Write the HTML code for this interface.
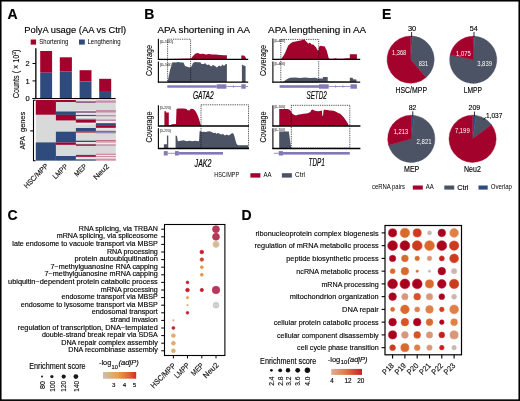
<!DOCTYPE html>
<html><head><meta charset="utf-8"><style>
html,body{margin:0;padding:0;background:#fff;overflow:hidden;}
svg{display:block;will-change:transform;}
text{stroke:#111;stroke-width:0.15px;font-family:"Liberation Sans",sans-serif;}
</style></head><body>
<svg width="520" height="401" viewBox="0 0 520 401">
<rect width="520" height="401" fill="#fff"/>
<g>
<text x="7.40" y="18.60" font-size="14" font-weight="bold" fill="#000" style="stroke:#000">A</text>
<text x="144.30" y="18.60" font-size="14" font-weight="bold" fill="#000" style="stroke:#000">B</text>
<text x="382.10" y="18.80" font-size="14" font-weight="bold" fill="#000" style="stroke:#000">E</text>
<text x="7.40" y="219.50" font-size="14" font-weight="bold" fill="#000" style="stroke:#000">C</text>
<text x="241.40" y="219.50" font-size="14" font-weight="bold" fill="#000" style="stroke:#000">D</text>
<text x="24.20" y="33.00" font-size="9" textLength="102.00" lengthAdjust="spacingAndGlyphs">PolyA usage (AA vs Ctrl)</text>
<rect x="30.70" y="39.50" width="5.40" height="5.10" fill="#a3022c"/>
<text x="39.30" y="44.40" font-size="7" textLength="29.00" lengthAdjust="spacingAndGlyphs" style="stroke:none">Shortening</text>
<rect x="79.00" y="39.50" width="5.80" height="5.10" fill="#2f4b7e"/>
<text x="87.50" y="44.40" font-size="7" textLength="33.20" lengthAdjust="spacingAndGlyphs" style="stroke:none">Lengthening</text>
<text x="0" y="0" font-size="9" text-anchor="middle" textLength="48.7" lengthAdjust="spacingAndGlyphs" transform="translate(19.0 73.9) rotate(-90)" fill="#111">Counts ( × 10<tspan font-size="6" dy="-3">3</tspan><tspan dy="3">)</tspan></text>
<text x="29.60" y="66.00" font-size="7.5" text-anchor="end">2</text>
<text x="29.60" y="83.60" font-size="7.5" text-anchor="end">1</text>
<text x="29.60" y="100.80" font-size="7.5" text-anchor="end">0</text>
<line x1="35.85" y1="48.30" x2="35.85" y2="98.50" stroke="#000" stroke-width="1.3"/>
<line x1="32.50" y1="63.50" x2="35.90" y2="63.50" stroke="#000" stroke-width="1"/>
<line x1="32.50" y1="80.90" x2="35.90" y2="80.90" stroke="#000" stroke-width="1"/>
<line x1="32.20" y1="98.50" x2="115.60" y2="98.50" stroke="#000" stroke-width="1.2"/>
<rect x="40.20" y="51.00" width="11.90" height="21.70" fill="#a3022c"/>
<rect x="40.20" y="72.70" width="11.90" height="25.30" fill="#2f4b7e"/>
<rect x="59.80" y="57.30" width="12.10" height="14.00" fill="#a3022c"/>
<rect x="59.80" y="71.30" width="12.10" height="26.70" fill="#2f4b7e"/>
<rect x="79.60" y="70.20" width="11.90" height="11.30" fill="#a3022c"/>
<rect x="79.60" y="81.50" width="11.90" height="16.50" fill="#2f4b7e"/>
<rect x="99.20" y="78.80" width="12.00" height="12.20" fill="#a3022c"/>
<rect x="99.20" y="91.00" width="12.00" height="7.00" fill="#2f4b7e"/>
<rect x="35.80" y="99.90" width="80.00" height="60.70" fill="#d8dada"/>
<rect x="35.80" y="99.90" width="20.10" height="14.80" fill="#a3022c"/>
<rect x="35.80" y="142.40" width="20.10" height="18.20" fill="#2f4b7e"/>
<rect x="55.90" y="99.90" width="20.00" height="2.10" fill="#a3022c"/>
<rect x="55.90" y="111.50" width="20.00" height="3.40" fill="#2f4b7e"/>
<rect x="55.90" y="114.90" width="20.00" height="5.50" fill="#a3022c"/>
<rect x="55.90" y="131.70" width="20.00" height="10.80" fill="#2f4b7e"/>
<rect x="55.90" y="142.50" width="20.00" height="2.30" fill="#a3022c"/>
<rect x="55.90" y="156.00" width="20.00" height="4.60" fill="#2f4b7e"/>
<rect x="75.90" y="99.30" width="20.00" height="0.90" fill="#e6c6ce"/>
<rect x="75.90" y="100.40" width="20.00" height="1.00" fill="#f0e6e8"/>
<rect x="75.90" y="101.40" width="20.00" height="1.30" fill="#7a3a68"/>
<rect x="75.90" y="110.00" width="20.00" height="1.40" fill="#ece2e6"/>
<rect x="75.90" y="111.40" width="20.00" height="1.40" fill="#6a3a6a"/>
<rect x="75.90" y="112.80" width="20.00" height="0.90" fill="#f0e8ea"/>
<rect x="75.90" y="113.70" width="20.00" height="1.20" fill="#ebe3e6"/>
<rect x="75.90" y="114.90" width="20.00" height="1.40" fill="#4a4a86"/>
<rect x="75.90" y="116.30" width="20.00" height="2.20" fill="#eeeaea"/>
<rect x="75.90" y="118.50" width="20.00" height="0.90" fill="#a8b0c8"/>
<rect x="75.90" y="119.40" width="20.00" height="0.50" fill="#2f4b7e"/>
<rect x="75.90" y="119.90" width="20.00" height="2.90" fill="#a3022c"/>
<rect x="75.90" y="122.80" width="20.00" height="1.70" fill="#f2eeee"/>
<rect x="75.90" y="128.00" width="20.00" height="3.40" fill="#2f4b7e"/>
<rect x="75.90" y="131.40" width="20.00" height="1.20" fill="#a0203a"/>
<rect x="75.90" y="140.70" width="20.00" height="1.50" fill="#3a4478"/>
<rect x="75.90" y="142.20" width="20.00" height="1.10" fill="#f0eeee"/>
<rect x="75.90" y="144.20" width="20.00" height="1.70" fill="#903050"/>
<rect x="75.90" y="154.90" width="20.00" height="1.40" fill="#2f4b7e"/>
<rect x="75.90" y="156.30" width="20.00" height="0.90" fill="#a3022c"/>
<rect x="75.90" y="157.20" width="20.00" height="2.20" fill="#e6e6e6"/>
<rect x="75.90" y="159.40" width="20.00" height="1.20" fill="#2f4b7e"/>
<rect x="95.90" y="99.30" width="19.90" height="1.00" fill="#e8c4cc"/>
<rect x="95.90" y="100.60" width="19.90" height="2.10" fill="#c890a8"/>
<rect x="95.90" y="110.00" width="19.90" height="2.50" fill="#c88ca8"/>
<rect x="95.90" y="113.80" width="19.90" height="0.80" fill="#eee8ea"/>
<rect x="95.90" y="114.90" width="19.90" height="1.60" fill="#c890a8"/>
<rect x="95.90" y="116.80" width="19.90" height="1.70" fill="#e2dede"/>
<rect x="95.90" y="119.50" width="19.90" height="1.50" fill="#c890a8"/>
<rect x="95.90" y="121.00" width="19.90" height="2.00" fill="#f0ecec"/>
<rect x="95.90" y="123.20" width="19.90" height="2.00" fill="#2f4b7e"/>
<rect x="95.90" y="125.20" width="19.90" height="2.60" fill="#a3022c"/>
<rect x="95.90" y="128.00" width="19.90" height="1.50" fill="#e6e6e6"/>
<rect x="95.90" y="130.90" width="19.90" height="1.30" fill="#c05070"/>
<rect x="95.90" y="132.20" width="19.90" height="1.10" fill="#8a80b0"/>
<rect x="95.90" y="140.30" width="19.90" height="1.10" fill="#c04060"/>
<rect x="95.90" y="141.40" width="19.90" height="1.40" fill="#d8a0b0"/>
<rect x="95.90" y="142.80" width="19.90" height="1.20" fill="#ecebeb"/>
<rect x="95.90" y="144.40" width="19.90" height="1.40" fill="#c890a8"/>
<rect x="95.90" y="153.80" width="19.90" height="1.00" fill="#c86080"/>
<rect x="95.90" y="154.80" width="19.90" height="1.20" fill="#eeeaea"/>
<rect x="95.90" y="156.00" width="19.90" height="1.20" fill="#c890a8"/>
<rect x="95.90" y="157.20" width="19.90" height="1.50" fill="#ebe7e7"/>
<rect x="95.90" y="158.70" width="19.90" height="1.90" fill="#d890a8"/>
<path d="M35.6,100.2 H33.5 V160.8 H35.6" fill="none" stroke="#000" stroke-width="1.1"/>
<line x1="30.20" y1="130.90" x2="33.50" y2="130.90" stroke="#000" stroke-width="1.1"/>
<text x="0" y="0" font-size="7.5" text-anchor="middle" transform="translate(24.8 142.8) rotate(-90)" fill="#111" textLength="13.3" lengthAdjust="spacingAndGlyphs">APA</text>
<text x="0" y="0" font-size="7.5" text-anchor="middle" transform="translate(24.8 121.9) rotate(-90)" fill="#111" textLength="20.2" lengthAdjust="spacingAndGlyphs">genes</text>
<text x="0" y="0" font-size="7.2" text-anchor="end" textLength="31.2" lengthAdjust="spacingAndGlyphs" transform="translate(48.7 166.6) rotate(-45)" fill="#111">HSC/MPP</text>
<text x="0" y="0" font-size="7.2" text-anchor="end" textLength="18" lengthAdjust="spacingAndGlyphs" transform="translate(68.3 166.8) rotate(-45)" fill="#111">LMPP</text>
<text x="0" y="0" font-size="7.2" text-anchor="end" textLength="14.5" lengthAdjust="spacingAndGlyphs" transform="translate(87.3 166.8) rotate(-45)" fill="#111">MEP</text>
<text x="0" y="0" font-size="7.2" text-anchor="end" textLength="19" lengthAdjust="spacingAndGlyphs" transform="translate(109.6 166.8) rotate(-45)" fill="#111">Neu2</text>
<text x="157.40" y="33.10" font-size="9.3" textLength="92.60" lengthAdjust="spacingAndGlyphs">APA shortening in AA</text>
<text x="268.10" y="33.10" font-size="9.3" textLength="98.00" lengthAdjust="spacingAndGlyphs">APA lengthening in AA</text>
<text x="0" y="0" font-size="8.5" text-anchor="middle" textLength="31" lengthAdjust="spacingAndGlyphs" transform="translate(151.9 60.6) rotate(-90)" fill="#111">Coverage</text>
<text x="0" y="0" font-size="8.5" text-anchor="middle" textLength="31" lengthAdjust="spacingAndGlyphs" transform="translate(151.9 127) rotate(-90)" fill="#111">Coverage</text>
<text x="0" y="0" font-size="8.5" text-anchor="middle" textLength="31" lengthAdjust="spacingAndGlyphs" transform="translate(266.2 60.6) rotate(-90)" fill="#111">Coverage</text>
<text x="0" y="0" font-size="8.5" text-anchor="middle" textLength="31" lengthAdjust="spacingAndGlyphs" transform="translate(266.2 127) rotate(-90)" fill="#111">Coverage</text>
<polygon points="169.00,59.40 169.00,59.00 191.00,58.60 193.00,56.00 195.50,53.60 198.00,53.00 200.00,54.00 203.00,53.80 206.00,54.40 209.00,54.00 212.00,54.60 216.00,54.60 220.00,55.00 224.00,55.20 226.90,55.20 226.90,59.40 241.30,59.40 241.30,55.40 244.00,55.60 245.80,57.40 245.80,59.40 245.80,59.40" fill="#a3022c"/>
<line x1="158.40" y1="38.80" x2="158.40" y2="60.00" stroke="#000" stroke-width="1.1"/>
<line x1="157.90" y1="59.40" x2="248.20" y2="59.40" stroke="#000" stroke-width="1.3"/>
<text x="159.90" y="43.00" font-size="3.9" textLength="12.90" lengthAdjust="spacingAndGlyphs" fill="#666" style="stroke:#666">[0-100]</text>
<polygon points="167.60,82.10 167.60,82.00 170.00,70.00 172.50,62.20 176.00,62.60 178.00,62.00 181.00,62.60 183.50,62.60 185.00,66.00 188.00,67.00 190.00,67.50 191.50,66.50 193.00,63.00 195.00,62.00 198.00,62.30 200.40,62.20 201.50,64.00 204.00,64.00 205.00,63.00 207.00,65.00 209.00,64.50 211.00,66.50 213.00,65.00 215.00,66.00 217.00,67.50 219.00,65.50 221.00,66.50 222.50,64.50 224.00,66.00 225.50,64.20 226.90,64.00 226.90,82.00 241.90,82.00 241.90,64.60 243.50,65.40 245.60,66.00 245.60,82.00 245.60,82.10" fill="#4b5364"/>
<line x1="158.40" y1="61.50" x2="158.40" y2="82.70" stroke="#000" stroke-width="1.1"/>
<line x1="157.90" y1="82.10" x2="248.20" y2="82.10" stroke="#000" stroke-width="1.3"/>
<text x="159.90" y="65.70" font-size="3.9" textLength="12.90" lengthAdjust="spacingAndGlyphs" fill="#666" style="stroke:#666">[0-100]</text>
<rect x="167.60" y="39.20" width="23.00" height="42.90" fill="none" stroke="#111" stroke-width="0.8" stroke-dasharray="0.9,0.9"/>
<rect x="167.30" y="85.30" width="49.50" height="2.40" fill="#8478b6"/>
<rect x="216.80" y="84.30" width="9.60" height="4.40" fill="#8478b6"/>
<line x1="226.40" y1="86.50" x2="241.30" y2="86.50" stroke="#8478b6" stroke-width="0.8"/>
<path d="M233.15,85.40 L234.45,86.50 L233.15,87.60" fill="none" stroke="#8478b6" stroke-width="0.8"/>
<rect x="241.30" y="84.30" width="4.40" height="4.40" fill="#8478b6"/>
<line x1="245.70" y1="86.50" x2="248.00" y2="86.50" stroke="#8478b6" stroke-width="0.8"/>
<text x="192.90" y="99.40" font-size="10" textLength="20.80" lengthAdjust="spacingAndGlyphs" font-style="italic">GATA2</text>
<polygon points="164.40,126.00 164.40,126.00 164.40,111.30 166.00,111.30 166.00,112.40 168.80,112.40 168.80,125.20 171.00,125.00 172.00,124.20 176.00,124.00 176.50,109.00 178.00,108.50 184.00,108.50 186.50,109.00 187.50,110.20 190.00,110.20 190.50,108.80 193.00,109.00 194.50,110.00 196.00,112.00 197.50,115.00 199.00,119.00 201.00,126.00 201.00,126.00" fill="#a3022c"/>
<line x1="158.40" y1="105.20" x2="158.40" y2="126.60" stroke="#000" stroke-width="1.1"/>
<line x1="157.90" y1="126.00" x2="249.00" y2="126.00" stroke="#000" stroke-width="1.3"/>
<text x="159.90" y="108.80" font-size="3.9" textLength="10.80" lengthAdjust="spacingAndGlyphs" fill="#666" style="stroke:#666">[0-220]</text>
<polygon points="163.85,148.50 163.85,148.46 163.85,144.23 166.92,144.23 166.92,135.38 168.27,135.38 168.27,148.46 175.58,148.46 175.58,135.38 176.92,135.96 177.88,141.15 180.77,140.77 183.65,140.19 186.54,141.15 189.42,140.77 192.31,141.35 195.19,140.77 198.08,141.15 199.04,140.77 199.62,131.15 201.15,131.15 201.92,132.12 203.85,131.73 205.77,132.12 207.69,131.54 209.62,131.15 211.54,132.12 213.46,133.08 215.38,132.69 216.35,134.04 217.31,133.08 219.23,133.46 221.15,134.62 223.08,134.04 225.00,135.38 226.92,134.62 228.85,135.38 230.77,134.04 232.31,133.08 233.65,134.04 234.62,136.92 235.58,140.77 236.54,143.65 237.50,145.00 238.46,145.19 248.08,145.19 248.08,148.46 248.08,148.50" fill="#4b5364"/>
<line x1="158.40" y1="128.30" x2="158.40" y2="149.10" stroke="#000" stroke-width="1.1"/>
<line x1="157.90" y1="148.50" x2="249.00" y2="148.50" stroke="#000" stroke-width="1.3"/>
<text x="159.90" y="131.90" font-size="3.9" textLength="10.80" lengthAdjust="spacingAndGlyphs" fill="#666" style="stroke:#666">[0-220]</text>
<rect x="201.00" y="104.80" width="47.50" height="43.70" fill="none" stroke="#111" stroke-width="0.8" stroke-dasharray="0.9,0.9"/>
<rect x="163.80" y="151.10" width="3.90" height="4.40" fill="#8478b6"/>
<line x1="167.70" y1="153.30" x2="175.00" y2="153.30" stroke="#8478b6" stroke-width="0.8"/>
<rect x="175.00" y="151.10" width="3.80" height="4.40" fill="#8478b6"/>
<rect x="178.80" y="152.00" width="44.20" height="2.60" fill="#8478b6"/>
<text x="194.60" y="166.90" font-size="10" textLength="16.90" lengthAdjust="spacingAndGlyphs" font-style="italic">JAK2</text>
<polygon points="280.58,59.40 280.58,59.42 281.15,58.85 281.92,58.08 283.46,55.77 285.38,52.31 286.92,48.46 288.27,45.58 290.19,43.65 292.12,42.31 294.04,41.73 296.92,41.15 298.85,40.77 300.77,40.38 302.69,39.81 304.23,39.62 305.58,40.77 306.54,41.73 307.50,42.69 308.46,43.65 309.42,42.69 310.38,43.08 311.35,44.23 312.31,44.62 313.27,44.62 314.23,45.58 315.19,46.54 316.15,47.50 317.12,49.42 318.08,50.77 318.46,50.77 319.04,46.92 319.62,46.15 320.96,45.77 322.88,46.15 324.81,46.54 325.77,48.85 326.73,50.38 327.69,54.23 328.65,58.08 329.23,58.85 333.46,58.65 335.38,58.27 337.31,58.85 343.08,58.85 345.96,58.27 349.81,58.27 349.81,54.23 356.92,54.23 356.92,59.42 356.92,59.40" fill="#a3022c"/>
<line x1="272.90" y1="38.50" x2="272.90" y2="60.00" stroke="#000" stroke-width="1.1"/>
<line x1="272.40" y1="59.40" x2="360.20" y2="59.40" stroke="#000" stroke-width="1.3"/>
<text x="274.40" y="41.50" font-size="3.9" textLength="10.80" lengthAdjust="spacingAndGlyphs" fill="#666" style="stroke:#666">[0-400]</text>
<polygon points="283.50,82.10 283.50,82.10 285.00,80.50 287.30,79.00 290.00,77.80 295.00,77.60 300.00,77.90 305.00,77.60 310.00,77.90 315.00,77.70 318.00,78.50 322.90,78.60 322.90,76.90 327.70,76.90 327.70,81.20 349.80,81.50 349.80,77.70 352.70,77.70 353.00,79.30 356.50,79.60 356.50,82.10 356.50,82.10" fill="#4b5364"/>
<line x1="272.90" y1="61.50" x2="272.90" y2="82.70" stroke="#000" stroke-width="1.1"/>
<line x1="272.40" y1="82.10" x2="360.20" y2="82.10" stroke="#000" stroke-width="1.3"/>
<text x="274.40" y="64.50" font-size="3.9" textLength="10.80" lengthAdjust="spacingAndGlyphs" fill="#666" style="stroke:#666">[0-400]</text>
<rect x="280.80" y="39.40" width="37.90" height="42.70" fill="none" stroke="#111" stroke-width="0.8" stroke-dasharray="0.9,0.9"/>
<rect x="279.60" y="85.20" width="39.40" height="2.60" fill="#8478b6"/>
<rect x="319.00" y="84.30" width="9.70" height="4.40" fill="#8478b6"/>
<line x1="328.70" y1="86.50" x2="350.40" y2="86.50" stroke="#8478b6" stroke-width="0.8"/>
<path d="M335.23,85.40 L336.53,86.50 L335.23,87.60" fill="none" stroke="#8478b6" stroke-width="0.8"/>
<path d="M342.47,85.40 L343.77,86.50 L342.47,87.60" fill="none" stroke="#8478b6" stroke-width="0.8"/>
<rect x="350.40" y="84.30" width="6.50" height="4.40" fill="#8478b6"/>
<text x="306.50" y="99.30" font-size="10" textLength="20.20" lengthAdjust="spacingAndGlyphs" font-style="italic">SETD2</text>
<polygon points="279.23,126.00 279.23,125.96 279.23,109.04 287.31,109.04 289.23,109.62 290.77,110.96 292.12,113.46 294.04,114.81 295.96,115.38 297.88,114.81 300.77,114.23 303.65,113.85 306.54,113.46 308.46,112.88 310.38,111.92 311.35,110.00 312.69,109.42 314.23,110.58 316.15,110.96 318.08,111.35 320.00,110.96 321.92,110.58 322.31,115.77 323.08,115.77 323.46,110.58 324.81,109.62 325.77,110.00 327.69,110.00 329.62,110.38 331.54,110.58 334.42,110.96 336.35,111.92 338.27,112.88 340.19,113.85 342.12,115.38 344.04,117.69 345.96,120.58 347.88,123.46 348.85,125.96 348.85,126.00" fill="#a3022c"/>
<line x1="272.90" y1="105.20" x2="272.90" y2="126.60" stroke="#000" stroke-width="1.1"/>
<line x1="272.40" y1="126.00" x2="360.40" y2="126.00" stroke="#000" stroke-width="1.3"/>
<text x="274.40" y="107.70" font-size="3.9" textLength="10.70" lengthAdjust="spacingAndGlyphs" fill="#666" style="stroke:#666">[0-100]</text>
<polygon points="279.20,148.50 279.20,148.50 279.20,131.50 288.80,131.50 290.00,140.00 291.20,148.50 291.20,148.50" fill="#4b5364"/>
<line x1="272.90" y1="128.30" x2="272.90" y2="149.10" stroke="#000" stroke-width="1.1"/>
<line x1="272.40" y1="148.50" x2="360.40" y2="148.50" stroke="#000" stroke-width="1.3"/>
<text x="274.40" y="130.80" font-size="3.9" textLength="10.70" lengthAdjust="spacingAndGlyphs" fill="#666" style="stroke:#666">[0-100]</text>
<rect x="291.30" y="105.30" width="58.50" height="42.80" fill="none" stroke="#111" stroke-width="0.8" stroke-dasharray="0.9,0.9"/>
<line x1="273.80" y1="153.30" x2="278.70" y2="153.30" stroke="#8478b6" stroke-width="0.8"/>
<rect x="278.70" y="151.10" width="4.30" height="4.40" fill="#8478b6"/>
<rect x="283.00" y="152.00" width="66.80" height="2.60" fill="#8478b6"/>
<text x="308.60" y="166.20" font-size="10" textLength="16.30" lengthAdjust="spacingAndGlyphs" font-style="italic">TDP1</text>
<text x="214.20" y="177.10" font-size="6.3" textLength="25.00" lengthAdjust="spacingAndGlyphs" style="stroke:none">HSC/MPP</text>
<rect x="250.40" y="173.20" width="10.00" height="4.40" fill="#a3022c"/>
<text x="263.50" y="177.10" font-size="6.3" textLength="8.00" lengthAdjust="spacingAndGlyphs" style="stroke:none">AA</text>
<rect x="281.90" y="173.20" width="10.00" height="4.40" fill="#4b5364"/>
<text x="295.00" y="177.10" font-size="6.3" textLength="10.00" lengthAdjust="spacingAndGlyphs" style="stroke:none">Ctrl</text>
<path d="M410.60,59.60 L410.60,36.00 A23.6,23.6 0 0 1 412.59,36.08 Z" fill="#2f4b7e" stroke="#2f4b7e" stroke-width="0.4" stroke-linejoin="round"/>
<path d="M410.60,59.60 L412.59,36.08 A23.6,23.6 0 0 1 426.06,77.43 Z" fill="#4b5364" stroke="#4b5364" stroke-width="0.4" stroke-linejoin="round"/>
<path d="M410.60,59.60 L426.06,77.43 A23.6,23.6 0 1 1 410.60,36.00 Z" fill="#a3022c" stroke="#a3022c" stroke-width="0.4" stroke-linejoin="round"/>
<path d="M473.20,59.80 L473.20,36.20 A23.6,23.6 0 0 1 474.81,36.26 Z" fill="#2f4b7e" stroke="#2f4b7e" stroke-width="0.4" stroke-linejoin="round"/>
<path d="M473.20,59.80 L474.81,36.26 A23.6,23.6 0 1 1 450.12,54.85 Z" fill="#4b5364" stroke="#4b5364" stroke-width="0.4" stroke-linejoin="round"/>
<path d="M473.20,59.80 L450.12,54.85 A23.6,23.6 0 0 1 473.20,36.20 Z" fill="#a3022c" stroke="#a3022c" stroke-width="0.4" stroke-linejoin="round"/>
<path d="M411.30,138.80 L411.30,115.20 A23.6,23.6 0 0 1 414.25,115.38 Z" fill="#2f4b7e" stroke="#2f4b7e" stroke-width="0.4" stroke-linejoin="round"/>
<path d="M411.30,138.80 L414.25,115.38 A23.6,23.6 0 1 1 388.62,145.34 Z" fill="#4b5364" stroke="#4b5364" stroke-width="0.4" stroke-linejoin="round"/>
<path d="M411.30,138.80 L388.62,145.34 A23.6,23.6 0 0 1 411.30,115.20 Z" fill="#a3022c" stroke="#a3022c" stroke-width="0.4" stroke-linejoin="round"/>
<path d="M472.60,138.80 L472.60,115.20 A23.6,23.6 0 0 1 476.25,115.48 Z" fill="#2f4b7e" stroke="#2f4b7e" stroke-width="0.4" stroke-linejoin="round"/>
<path d="M472.60,138.80 L476.25,115.48 A23.6,23.6 0 0 1 491.48,124.64 Z" fill="#4b5364" stroke="#4b5364" stroke-width="0.4" stroke-linejoin="round"/>
<path d="M472.60,138.80 L491.48,124.64 A23.6,23.6 0 1 1 472.60,115.20 Z" fill="#a3022c" stroke="#a3022c" stroke-width="0.4" stroke-linejoin="round"/>
<text x="412.10" y="30.80" font-size="7.6" text-anchor="middle" textLength="8.20" lengthAdjust="spacingAndGlyphs">30</text>
<line x1="411.60" y1="32.00" x2="411.60" y2="36.80" stroke="#111" stroke-width="0.9"/>
<text x="473.75" y="30.70" font-size="7.6" text-anchor="middle" textLength="8.10" lengthAdjust="spacingAndGlyphs">54</text>
<line x1="474.01" y1="31.90" x2="474.01" y2="37.00" stroke="#111" stroke-width="0.9"/>
<text x="412.60" y="110.10" font-size="7.6" text-anchor="middle" textLength="7.80" lengthAdjust="spacingAndGlyphs">82</text>
<line x1="412.78" y1="111.30" x2="412.78" y2="116.00" stroke="#111" stroke-width="0.9"/>
<text x="474.35" y="110.30" font-size="7.6" text-anchor="middle" textLength="11.70" lengthAdjust="spacingAndGlyphs">209</text>
<line x1="474.43" y1="111.50" x2="474.43" y2="116.00" stroke="#111" stroke-width="0.9"/>
<text x="486.00" y="117.70" font-size="7.6" textLength="16.40" lengthAdjust="spacingAndGlyphs">1,037</text>
<line x1="485.60" y1="117.30" x2="483.50" y2="119.80" stroke="#111" stroke-width="0.9"/>
<text x="392.00" y="54.60" font-size="7.2" textLength="14.20" lengthAdjust="spacingAndGlyphs" fill="#ffffff" style="stroke:none">1,368</text>
<text x="418.70" y="66.30" font-size="7.2" textLength="9.50" lengthAdjust="spacingAndGlyphs" fill="#ffffff" style="stroke:none">831</text>
<text x="456.00" y="55.80" font-size="7.2" textLength="14.80" lengthAdjust="spacingAndGlyphs" fill="#ffffff" style="stroke:none">1,075</text>
<text x="477.20" y="66.00" font-size="7.2" textLength="14.80" lengthAdjust="spacingAndGlyphs" fill="#ffffff" style="stroke:none">3,839</text>
<text x="393.80" y="134.30" font-size="7.2" textLength="14.40" lengthAdjust="spacingAndGlyphs" fill="#ffffff" style="stroke:none">1,213</text>
<text x="416.50" y="144.30" font-size="7.2" textLength="15.10" lengthAdjust="spacingAndGlyphs" fill="#ffffff" style="stroke:none">2,821</text>
<text x="454.90" y="132.60" font-size="7.2" textLength="14.80" lengthAdjust="spacingAndGlyphs" fill="#ffffff" style="stroke:none">7,199</text>
<text x="395.50" y="92.80" font-size="8.3" textLength="31.50" lengthAdjust="spacingAndGlyphs">HSC/MPP</text>
<text x="463.80" y="92.50" font-size="8.3" textLength="18.20" lengthAdjust="spacingAndGlyphs">LMPP</text>
<text x="404.00" y="171.80" font-size="8.3" textLength="15.30" lengthAdjust="spacingAndGlyphs">MEP</text>
<text x="464.00" y="172.10" font-size="8.3" textLength="16.80" lengthAdjust="spacingAndGlyphs">Neu2</text>
<text x="372.00" y="189.30" font-size="6.9" textLength="32.90" lengthAdjust="spacingAndGlyphs" style="stroke:none">ceRNA pairs</text>
<rect x="412.80" y="185.50" width="10.00" height="4.10" fill="#a3022c"/>
<text x="425.80" y="189.30" font-size="6.9" textLength="8.00" lengthAdjust="spacingAndGlyphs" style="stroke:none">AA</text>
<rect x="444.30" y="185.50" width="9.90" height="4.10" fill="#4b5364"/>
<text x="457.20" y="189.50" font-size="7.5" textLength="11.30" lengthAdjust="spacingAndGlyphs">Ctrl</text>
<rect x="478.50" y="185.50" width="9.20" height="4.10" fill="#2f4b7e"/>
<text x="490.80" y="189.30" font-size="6.9" textLength="21.20" lengthAdjust="spacingAndGlyphs" style="stroke:none">Overlap</text>
<text x="157.80" y="230.80" font-size="6.8" text-anchor="end" textLength="79.00" lengthAdjust="spacingAndGlyphs">RNA splicing, via TRBAN</text>
<line x1="161.20" y1="229.20" x2="164.50" y2="229.20" stroke="#000" stroke-width="1"/>
<text x="157.80" y="238.40" font-size="6.8" text-anchor="end" textLength="101.10" lengthAdjust="spacingAndGlyphs">mRNA splicing, via spliceosome</text>
<line x1="161.20" y1="236.80" x2="164.50" y2="236.80" stroke="#000" stroke-width="1"/>
<text x="157.80" y="246.00" font-size="6.8" text-anchor="end" textLength="145.50" lengthAdjust="spacingAndGlyphs">late endosome to vacuole transport via MBSP</text>
<line x1="161.20" y1="244.40" x2="164.50" y2="244.40" stroke="#000" stroke-width="1"/>
<text x="157.80" y="253.60" font-size="6.8" text-anchor="end" textLength="50.90" lengthAdjust="spacingAndGlyphs">RNA processing</text>
<line x1="161.20" y1="252.00" x2="164.50" y2="252.00" stroke="#000" stroke-width="1"/>
<text x="157.80" y="261.20" font-size="6.8" text-anchor="end" textLength="83.20" lengthAdjust="spacingAndGlyphs">protein autoubiquitination</text>
<line x1="161.20" y1="259.60" x2="164.50" y2="259.60" stroke="#000" stroke-width="1"/>
<text x="157.80" y="268.80" font-size="6.8" text-anchor="end" textLength="107.40" lengthAdjust="spacingAndGlyphs">7−methylguanosine RNA capping</text>
<line x1="161.20" y1="267.20" x2="164.50" y2="267.20" stroke="#000" stroke-width="1"/>
<text x="157.80" y="276.40" font-size="6.8" text-anchor="end" textLength="113.20" lengthAdjust="spacingAndGlyphs">7−methylguanosine mRNA capping</text>
<line x1="161.20" y1="274.80" x2="164.50" y2="274.80" stroke="#000" stroke-width="1"/>
<text x="157.80" y="284.00" font-size="6.8" text-anchor="end" textLength="149.70" lengthAdjust="spacingAndGlyphs">ubiquitin−dependent protein catabolic process</text>
<line x1="161.20" y1="282.40" x2="164.50" y2="282.40" stroke="#000" stroke-width="1"/>
<text x="157.80" y="291.60" font-size="6.8" text-anchor="end" textLength="57.00" lengthAdjust="spacingAndGlyphs">mRNA processing</text>
<line x1="161.20" y1="290.00" x2="164.50" y2="290.00" stroke="#000" stroke-width="1"/>
<text x="157.80" y="299.20" font-size="6.8" text-anchor="end" textLength="96.30" lengthAdjust="spacingAndGlyphs">endosome transport via MBSP</text>
<line x1="161.20" y1="297.60" x2="164.50" y2="297.60" stroke="#000" stroke-width="1"/>
<text x="157.80" y="306.80" font-size="6.8" text-anchor="end" textLength="137.00" lengthAdjust="spacingAndGlyphs">endosome to lysosome transport via MBSP</text>
<line x1="161.20" y1="305.20" x2="164.50" y2="305.20" stroke="#000" stroke-width="1"/>
<text x="157.80" y="314.40" font-size="6.8" text-anchor="end" textLength="66.00" lengthAdjust="spacingAndGlyphs">endosomal transport</text>
<line x1="161.20" y1="312.80" x2="164.50" y2="312.80" stroke="#000" stroke-width="1"/>
<text x="157.80" y="322.00" font-size="6.8" text-anchor="end" textLength="47.50" lengthAdjust="spacingAndGlyphs">strand invasion</text>
<line x1="161.20" y1="320.40" x2="164.50" y2="320.40" stroke="#000" stroke-width="1"/>
<text x="157.80" y="329.60" font-size="6.8" text-anchor="end" textLength="140.10" lengthAdjust="spacingAndGlyphs">regulation of transcription, DNA−templated</text>
<line x1="161.20" y1="328.00" x2="164.50" y2="328.00" stroke="#000" stroke-width="1"/>
<text x="157.80" y="337.20" font-size="6.8" text-anchor="end" textLength="115.90" lengthAdjust="spacingAndGlyphs">double-strand break repair via SDSA</text>
<line x1="161.20" y1="335.60" x2="164.50" y2="335.60" stroke="#000" stroke-width="1"/>
<text x="157.80" y="344.80" font-size="6.8" text-anchor="end" textLength="96.60" lengthAdjust="spacingAndGlyphs">DNA repair complex assembly</text>
<line x1="161.20" y1="343.20" x2="164.50" y2="343.20" stroke="#000" stroke-width="1"/>
<text x="157.80" y="352.40" font-size="6.8" text-anchor="end" textLength="89.50" lengthAdjust="spacingAndGlyphs">DNA recombinase assembly</text>
<line x1="161.20" y1="350.80" x2="164.50" y2="350.80" stroke="#000" stroke-width="1"/>
<rect x="164.5" y="224.5" width="60.400000000000006" height="131.0" fill="none" stroke="#000" stroke-width="1.1"/>
<line x1="173.40" y1="355.50" x2="173.40" y2="358.40" stroke="#000" stroke-width="1"/>
<line x1="187.50" y1="355.50" x2="187.50" y2="358.40" stroke="#000" stroke-width="1"/>
<line x1="201.80" y1="355.50" x2="201.80" y2="358.40" stroke="#000" stroke-width="1"/>
<line x1="216.00" y1="355.50" x2="216.00" y2="358.40" stroke="#000" stroke-width="1"/>
<circle cx="216.00" cy="229.20" r="3.45" fill="#b23a62" stroke="#c8283e" stroke-width="0.7"/>
<circle cx="216.00" cy="236.80" r="3.45" fill="#b23a62" stroke="#c8283e" stroke-width="0.7"/>
<circle cx="216.00" cy="244.40" r="3.05" fill="#d5bb9b" stroke="#dcc2a2" stroke-width="0.7"/>
<circle cx="201.80" cy="252.00" r="1.85" fill="#bc1e36" stroke="#cc1e2e" stroke-width="0.7"/>
<circle cx="201.80" cy="259.60" r="1.75" fill="#c8403a" stroke="#d84a30" stroke-width="0.7"/>
<circle cx="201.80" cy="267.20" r="1.45" fill="#e29640" stroke="#e49a3d" stroke-width="0.7"/>
<circle cx="201.80" cy="274.80" r="1.45" fill="#e29640" stroke="#e49a3d" stroke-width="0.7"/>
<circle cx="187.50" cy="282.40" r="1.35" fill="#bc1e36" stroke="#cc1e2e" stroke-width="0.7"/>
<circle cx="187.50" cy="290.00" r="1.85" fill="#bc1e36" stroke="#cc1e2e" stroke-width="0.7"/>
<circle cx="201.80" cy="290.00" r="1.65" fill="#bc1e36" stroke="#cc1e2e" stroke-width="0.7"/>
<circle cx="216.00" cy="290.00" r="3.75" fill="#b23a62" stroke="#c8283e" stroke-width="0.7"/>
<circle cx="187.50" cy="297.60" r="1.15" fill="#e29640" stroke="#e49a3d" stroke-width="0.7"/>
<circle cx="187.50" cy="305.20" r="1.10" fill="#d9b38c"/>
<circle cx="216.00" cy="305.20" r="2.85" fill="#d0d0d0" stroke="#bdbdbd" stroke-width="0.7"/>
<circle cx="187.50" cy="312.80" r="1.35" fill="#bc1e36" stroke="#cc1e2e" stroke-width="0.7"/>
<circle cx="173.40" cy="320.40" r="1.10" fill="#d9b38c"/>
<circle cx="173.40" cy="328.00" r="1.45" fill="#bc1e36" stroke="#cc1e2e" stroke-width="0.7"/>
<circle cx="173.40" cy="335.60" r="1.95" fill="#dfae6c" stroke="#e0ad68" stroke-width="0.7"/>
<circle cx="173.40" cy="343.20" r="1.95" fill="#dfae6c" stroke="#e0ad68" stroke-width="0.7"/>
<circle cx="173.40" cy="350.80" r="1.95" fill="#dfae6c" stroke="#e0ad68" stroke-width="0.7"/>
<text x="0" y="0" font-size="7.8" text-anchor="end" textLength="31.8" lengthAdjust="spacingAndGlyphs" transform="translate(176.2 366.20000000000005) rotate(-45)" fill="#111">HSC/MPP</text>
<text x="0" y="0" font-size="7.8" text-anchor="end" textLength="18.2" lengthAdjust="spacingAndGlyphs" transform="translate(190.2 365.90000000000003) rotate(-45)" fill="#111">LMPP</text>
<text x="0" y="0" font-size="7.8" text-anchor="end" textLength="14.5" lengthAdjust="spacingAndGlyphs" transform="translate(204.2 366.0) rotate(-45)" fill="#111">MEP</text>
<text x="0" y="0" font-size="7.8" text-anchor="end" textLength="18.5" lengthAdjust="spacingAndGlyphs" transform="translate(219.2 365.70000000000005) rotate(-45)" fill="#111">Neu2</text>
<text x="29.20" y="369.40" font-size="9.6" textLength="56.40" lengthAdjust="spacingAndGlyphs">Enrichment score</text>
<circle cx="42.00" cy="376.60" r="1.00" fill="#1a1a1a"/>
<text x="0" y="0" font-size="7.4" text-anchor="end" textLength="8" lengthAdjust="spacingAndGlyphs" transform="translate(44.70 380.9) rotate(-90)" fill="#111">80</text>
<circle cx="51.90" cy="376.60" r="1.60" fill="#1a1a1a"/>
<text x="0" y="0" font-size="7.4" text-anchor="end" textLength="10.8" lengthAdjust="spacingAndGlyphs" transform="translate(54.60 380.9) rotate(-90)" fill="#111">100</text>
<circle cx="63.70" cy="376.60" r="2.10" fill="#1a1a1a"/>
<text x="0" y="0" font-size="7.4" text-anchor="end" textLength="10.8" lengthAdjust="spacingAndGlyphs" transform="translate(66.40 380.9) rotate(-90)" fill="#111">120</text>
<circle cx="75.90" cy="376.60" r="2.40" fill="#1a1a1a"/>
<text x="0" y="0" font-size="7.4" text-anchor="end" textLength="10.8" lengthAdjust="spacingAndGlyphs" transform="translate(78.60 380.9) rotate(-90)" fill="#111">140</text>
<defs><linearGradient id="gc" x1="0" x2="1" y1="0" y2="0"><stop offset="0" stop-color="#cdbfb0"/><stop offset="0.45" stop-color="#e8a04a"/><stop offset="0.8" stop-color="#e06030"/><stop offset="1" stop-color="#d42a2a"/></linearGradient><linearGradient id="gd" x1="0" x2="1" y1="0" y2="0"><stop offset="0" stop-color="#dcb098"/><stop offset="0.45" stop-color="#e07a48"/><stop offset="1" stop-color="#c8202a"/></linearGradient></defs>
<rect x="103.00" y="372.00" width="33.20" height="6.70" fill="url(#gc)"/>
<text x="99.00" y="365.00" font-size="8" textLength="12.20" lengthAdjust="spacingAndGlyphs">-log</text>
<text x="111.60" y="368.50" font-size="5.8" textLength="6.40" lengthAdjust="spacingAndGlyphs">10</text>
<text x="118.60" y="365.00" font-size="8" textLength="20.20" lengthAdjust="spacingAndGlyphs" font-style="italic">(adjP)</text>
<text x="113.70" y="386.70" font-size="6.2" text-anchor="middle">3</text>
<text x="124.50" y="386.70" font-size="6.2" text-anchor="middle">4</text>
<text x="134.50" y="386.70" font-size="6.2" text-anchor="middle">5</text>
<text x="378.70" y="235.70" font-size="7.8" text-anchor="end" textLength="123.30" lengthAdjust="spacingAndGlyphs">ribonucleoprotein complex biogenesis</text>
<line x1="381.60" y1="232.90" x2="385.00" y2="232.90" stroke="#000" stroke-width="1.1"/>
<text x="378.70" y="248.45" font-size="7.8" text-anchor="end" textLength="124.10" lengthAdjust="spacingAndGlyphs">regulation of mRNA metabolic process</text>
<line x1="381.60" y1="245.65" x2="385.00" y2="245.65" stroke="#000" stroke-width="1.1"/>
<text x="378.70" y="261.20" font-size="7.8" text-anchor="end" textLength="92.40" lengthAdjust="spacingAndGlyphs">peptide biosynthetic process</text>
<line x1="381.60" y1="258.40" x2="385.00" y2="258.40" stroke="#000" stroke-width="1.1"/>
<text x="378.70" y="273.95" font-size="7.8" text-anchor="end" textLength="82.40" lengthAdjust="spacingAndGlyphs">ncRNA metabolic process</text>
<line x1="381.60" y1="271.15" x2="385.00" y2="271.15" stroke="#000" stroke-width="1.1"/>
<text x="378.70" y="286.70" font-size="7.8" text-anchor="end" textLength="57.30" lengthAdjust="spacingAndGlyphs">mRNA processing</text>
<line x1="381.60" y1="283.90" x2="385.00" y2="283.90" stroke="#000" stroke-width="1.1"/>
<text x="378.70" y="299.45" font-size="7.8" text-anchor="end" textLength="88.90" lengthAdjust="spacingAndGlyphs">mitochondrion organization</text>
<line x1="381.60" y1="296.65" x2="385.00" y2="296.65" stroke="#000" stroke-width="1.1"/>
<text x="378.70" y="312.20" font-size="7.8" text-anchor="end" textLength="36.60" lengthAdjust="spacingAndGlyphs">DNA repair</text>
<line x1="381.60" y1="309.40" x2="385.00" y2="309.40" stroke="#000" stroke-width="1.1"/>
<text x="378.70" y="324.95" font-size="7.8" text-anchor="end" textLength="105.00" lengthAdjust="spacingAndGlyphs">cellular protein catabolic process</text>
<line x1="381.60" y1="322.15" x2="385.00" y2="322.15" stroke="#000" stroke-width="1.1"/>
<text x="378.70" y="337.70" font-size="7.8" text-anchor="end" textLength="101.80" lengthAdjust="spacingAndGlyphs">cellular component disassembly</text>
<line x1="381.60" y1="334.90" x2="385.00" y2="334.90" stroke="#000" stroke-width="1.1"/>
<text x="378.70" y="350.45" font-size="7.8" text-anchor="end" textLength="81.60" lengthAdjust="spacingAndGlyphs">cell cycle phase transition</text>
<line x1="381.60" y1="347.65" x2="385.00" y2="347.65" stroke="#000" stroke-width="1.1"/>
<rect x="385" y="225.5" width="76.5" height="129.3" fill="none" stroke="#000" stroke-width="1.2"/>
<line x1="392.60" y1="354.80" x2="392.60" y2="358.50" stroke="#000" stroke-width="1.1"/>
<line x1="404.90" y1="354.80" x2="404.90" y2="358.50" stroke="#000" stroke-width="1.1"/>
<line x1="417.20" y1="354.80" x2="417.20" y2="358.50" stroke="#000" stroke-width="1.1"/>
<line x1="429.50" y1="354.80" x2="429.50" y2="358.50" stroke="#000" stroke-width="1.1"/>
<line x1="441.80" y1="354.80" x2="441.80" y2="358.50" stroke="#000" stroke-width="1.1"/>
<line x1="454.10" y1="354.80" x2="454.10" y2="358.50" stroke="#000" stroke-width="1.1"/>
<circle cx="392.60" cy="232.90" r="4.10" fill="#a8021f" stroke="#be1430" stroke-width="0.6"/>
<circle cx="404.90" cy="232.90" r="4.70" fill="#d8692f" stroke="#e07838" stroke-width="0.6"/>
<circle cx="417.20" cy="232.90" r="4.10" fill="#cc3b1f" stroke="#d84a28" stroke-width="0.6"/>
<circle cx="429.50" cy="232.90" r="2.10" fill="#c9b8b1" stroke="#d0c0ba" stroke-width="0.6"/>
<circle cx="441.80" cy="232.90" r="3.80" fill="#a8021f" stroke="#be1430" stroke-width="0.6"/>
<circle cx="454.10" cy="232.90" r="4.30" fill="#de8048" stroke="#e48a52" stroke-width="0.6"/>
<circle cx="392.60" cy="245.65" r="4.90" fill="#a8021f" stroke="#be1430" stroke-width="0.6"/>
<circle cx="404.90" cy="245.65" r="4.90" fill="#a8021f" stroke="#be1430" stroke-width="0.6"/>
<circle cx="417.20" cy="245.65" r="4.90" fill="#cc3b1f" stroke="#d84a28" stroke-width="0.6"/>
<circle cx="429.50" cy="245.65" r="4.90" fill="#d8692f" stroke="#e07838" stroke-width="0.6"/>
<circle cx="441.80" cy="245.65" r="4.90" fill="#a8021f" stroke="#be1430" stroke-width="0.6"/>
<circle cx="454.10" cy="245.65" r="4.70" fill="#cc3b1f" stroke="#d84a28" stroke-width="0.6"/>
<circle cx="392.60" cy="258.40" r="3.20" fill="#a8021f" stroke="#be1430" stroke-width="0.6"/>
<circle cx="404.90" cy="258.40" r="3.40" fill="#d8692f" stroke="#e07838" stroke-width="0.6"/>
<circle cx="417.20" cy="258.40" r="2.30" fill="#d8692f" stroke="#e07838" stroke-width="0.6"/>
<circle cx="429.50" cy="258.40" r="2.30" fill="#d9977a" stroke="#dca084" stroke-width="0.6"/>
<circle cx="441.80" cy="258.40" r="2.50" fill="#c81e22" stroke="#d42a2a" stroke-width="0.6"/>
<circle cx="454.10" cy="258.40" r="4.40" fill="#cc3b1f" stroke="#d84a28" stroke-width="0.6"/>
<circle cx="392.60" cy="271.15" r="2.50" fill="#d8692f" stroke="#e07838" stroke-width="0.6"/>
<circle cx="404.90" cy="271.15" r="3.80" fill="#d8692f" stroke="#e07838" stroke-width="0.6"/>
<circle cx="417.20" cy="271.15" r="1.20" fill="#d8692f" stroke="#e07838" stroke-width="0.6"/>
<circle cx="429.50" cy="271.15" r="1.20" fill="#c9b8b1" stroke="#d0c0ba" stroke-width="0.6"/>
<circle cx="441.80" cy="271.15" r="3.80" fill="#a8021f" stroke="#be1430" stroke-width="0.6"/>
<circle cx="454.10" cy="271.15" r="2.70" fill="#c9b8b1" stroke="#d0c0ba" stroke-width="0.6"/>
<circle cx="392.60" cy="283.90" r="4.90" fill="#a8021f" stroke="#be1430" stroke-width="0.6"/>
<circle cx="404.90" cy="283.90" r="4.90" fill="#a8021f" stroke="#be1430" stroke-width="0.6"/>
<circle cx="417.20" cy="283.90" r="4.90" fill="#a8021f" stroke="#be1430" stroke-width="0.6"/>
<circle cx="429.50" cy="283.90" r="4.10" fill="#d8692f" stroke="#e07838" stroke-width="0.6"/>
<circle cx="441.80" cy="283.90" r="4.30" fill="#a8021f" stroke="#be1430" stroke-width="0.6"/>
<circle cx="454.10" cy="283.90" r="4.70" fill="#cc3b1f" stroke="#d84a28" stroke-width="0.6"/>
<circle cx="392.60" cy="296.65" r="3.80" fill="#a8021f" stroke="#be1430" stroke-width="0.6"/>
<circle cx="404.90" cy="296.65" r="3.20" fill="#d9977a" stroke="#dca084" stroke-width="0.6"/>
<circle cx="417.20" cy="296.65" r="3.40" fill="#d4552a" stroke="#dc6030" stroke-width="0.6"/>
<circle cx="429.50" cy="296.65" r="3.20" fill="#d9977a" stroke="#dca084" stroke-width="0.6"/>
<circle cx="441.80" cy="296.65" r="2.90" fill="#a8021f" stroke="#be1430" stroke-width="0.6"/>
<circle cx="454.10" cy="296.65" r="2.50" fill="#c9b8b1" stroke="#d0c0ba" stroke-width="0.6"/>
<circle cx="392.60" cy="309.40" r="2.10" fill="#d8692f" stroke="#e07838" stroke-width="0.6"/>
<circle cx="404.90" cy="309.40" r="4.30" fill="#d8692f" stroke="#e07838" stroke-width="0.6"/>
<circle cx="417.20" cy="309.40" r="2.50" fill="#de8048" stroke="#e48a52" stroke-width="0.6"/>
<circle cx="429.50" cy="309.40" r="3.80" fill="#de8048" stroke="#e48a52" stroke-width="0.6"/>
<circle cx="441.80" cy="309.40" r="2.30" fill="#cc3b1f" stroke="#d84a28" stroke-width="0.6"/>
<circle cx="454.10" cy="309.40" r="4.40" fill="#de8048" stroke="#e48a52" stroke-width="0.6"/>
<circle cx="392.60" cy="322.15" r="3.80" fill="#a8021f" stroke="#be1430" stroke-width="0.6"/>
<circle cx="404.90" cy="322.15" r="3.80" fill="#d4552a" stroke="#dc6030" stroke-width="0.6"/>
<circle cx="417.20" cy="322.15" r="3.80" fill="#a8021f" stroke="#be1430" stroke-width="0.6"/>
<circle cx="429.50" cy="322.15" r="3.40" fill="#d8692f" stroke="#e07838" stroke-width="0.6"/>
<circle cx="441.80" cy="322.15" r="2.30" fill="#a8021f" stroke="#be1430" stroke-width="0.6"/>
<circle cx="454.10" cy="322.15" r="3.40" fill="#de8048" stroke="#e48a52" stroke-width="0.6"/>
<circle cx="392.60" cy="334.90" r="4.10" fill="#a8021f" stroke="#be1430" stroke-width="0.6"/>
<circle cx="404.90" cy="334.90" r="3.40" fill="#d9977a" stroke="#dca084" stroke-width="0.6"/>
<circle cx="417.20" cy="334.90" r="3.40" fill="#d4552a" stroke="#dc6030" stroke-width="0.6"/>
<circle cx="429.50" cy="334.90" r="3.20" fill="#d9977a" stroke="#dca084" stroke-width="0.6"/>
<circle cx="441.80" cy="334.90" r="2.90" fill="#c81e22" stroke="#d42a2a" stroke-width="0.6"/>
<circle cx="454.10" cy="334.90" r="4.10" fill="#d9977a" stroke="#dca084" stroke-width="0.6"/>
<circle cx="392.60" cy="347.65" r="2.90" fill="#cc3b1f" stroke="#d84a28" stroke-width="0.6"/>
<circle cx="404.90" cy="347.65" r="4.10" fill="#d8692f" stroke="#e07838" stroke-width="0.6"/>
<circle cx="417.20" cy="347.65" r="2.90" fill="#de8048" stroke="#e48a52" stroke-width="0.6"/>
<circle cx="429.50" cy="347.65" r="2.70" fill="#d9977a" stroke="#dca084" stroke-width="0.6"/>
<circle cx="441.80" cy="347.65" r="2.30" fill="#c81e22" stroke="#d42a2a" stroke-width="0.6"/>
<circle cx="454.10" cy="347.65" r="2.30" fill="#c9b8b1" stroke="#d0c0ba" stroke-width="0.6"/>
<text x="0" y="0" font-size="7.8" text-anchor="end" textLength="12.8" lengthAdjust="spacingAndGlyphs" transform="translate(394.40 366.2) rotate(-45)" fill="#111">P18</text>
<text x="0" y="0" font-size="7.8" text-anchor="end" textLength="12.8" lengthAdjust="spacingAndGlyphs" transform="translate(406.70 366.2) rotate(-45)" fill="#111">P19</text>
<text x="0" y="0" font-size="7.8" text-anchor="end" textLength="12.8" lengthAdjust="spacingAndGlyphs" transform="translate(419.00 366.2) rotate(-45)" fill="#111">P20</text>
<text x="0" y="0" font-size="7.8" text-anchor="end" textLength="12.8" lengthAdjust="spacingAndGlyphs" transform="translate(431.30 366.2) rotate(-45)" fill="#111">P21</text>
<text x="0" y="0" font-size="7.8" text-anchor="end" textLength="12.8" lengthAdjust="spacingAndGlyphs" transform="translate(443.60 366.2) rotate(-45)" fill="#111">P22</text>
<text x="0" y="0" font-size="7.8" text-anchor="end" textLength="12.8" lengthAdjust="spacingAndGlyphs" transform="translate(455.90 366.2) rotate(-45)" fill="#111">P23</text>
<text x="260.10" y="363.50" font-size="9.6" textLength="56.10" lengthAdjust="spacingAndGlyphs">Enrichment score</text>
<circle cx="271.40" cy="370.30" r="1.40" fill="#111"/>
<text x="0" y="0" font-size="7.2" text-anchor="end" textLength="9.2" lengthAdjust="spacingAndGlyphs" transform="translate(274.00 376.5) rotate(-90)" fill="#111">2.4</text>
<circle cx="280.20" cy="370.30" r="1.90" fill="#111"/>
<text x="0" y="0" font-size="7.2" text-anchor="end" textLength="9.2" lengthAdjust="spacingAndGlyphs" transform="translate(282.80 376.5) rotate(-90)" fill="#111">2.8</text>
<circle cx="288.00" cy="370.30" r="2.20" fill="#111"/>
<text x="0" y="0" font-size="7.2" text-anchor="end" textLength="9.2" lengthAdjust="spacingAndGlyphs" transform="translate(290.60 376.5) rotate(-90)" fill="#111">3.2</text>
<circle cx="297.70" cy="370.30" r="2.40" fill="#111"/>
<text x="0" y="0" font-size="7.2" text-anchor="end" textLength="9.2" lengthAdjust="spacingAndGlyphs" transform="translate(300.30 376.5) rotate(-90)" fill="#111">3.6</text>
<circle cx="307.40" cy="370.30" r="2.70" fill="#111"/>
<text x="0" y="0" font-size="7.2" text-anchor="end" textLength="9.2" lengthAdjust="spacingAndGlyphs" transform="translate(310.00 376.5) rotate(-90)" fill="#111">4.0</text>
<rect x="331.20" y="368.90" width="30.80" height="6.00" fill="url(#gd)"/>
<text x="327.70" y="361.50" font-size="8" textLength="12.60" lengthAdjust="spacingAndGlyphs">-log</text>
<text x="340.80" y="364.10" font-size="5.8" textLength="6.40" lengthAdjust="spacingAndGlyphs">10</text>
<text x="347.60" y="361.50" font-size="8" textLength="19.90" lengthAdjust="spacingAndGlyphs" font-style="italic">(adjP)</text>
<text x="332.00" y="383.40" font-size="6.4" text-anchor="middle">4</text>
<text x="348.00" y="383.40" font-size="6.4" text-anchor="middle">12</text>
<text x="360.80" y="383.40" font-size="6.4" text-anchor="middle">20</text>
<rect x="0.75" y="0.75" width="518.5" height="399.4" fill="none" stroke="#000" stroke-width="1.6"/>
</g>
</svg></body></html>
